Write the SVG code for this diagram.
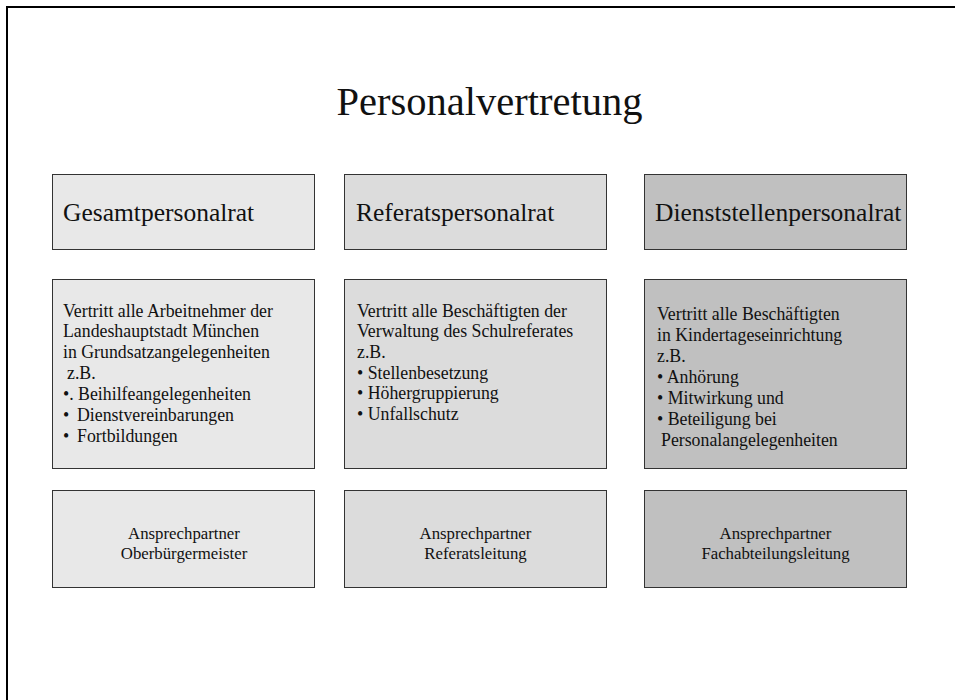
<svg xmlns="http://www.w3.org/2000/svg" width="955" height="700" viewBox="0 0 955 700">
  <style>
    text { font-family: "Liberation Serif", "Times New Roman", serif; fill: #111; }
    .frame { stroke: #000; stroke-width: 2; fill: none; }
    .box { stroke: #333; stroke-width: 1; }
    .c1 { fill: #e8e8e8; }
    .c2 { fill: #dcdcdc; }
    .c3 { fill: #c0c0c0; }
    .title { font-size: 40.5px; text-anchor: middle; }
    .head { font-size: 25.5px; }
    .body { font-size: 17.8px; }
    .foot { font-size: 16.8px; text-anchor: middle; }
  </style>

  <!-- page frame (top and left edges) -->
  <path class="frame" d="M7 700 V7 H955"/>

  <text class="title" x="489.5" y="115">Personalvertretung</text>

  <!-- column 1 -->
  <g id="gesamt-head">
    <rect class="box c1" x="52.5" y="174.5" width="262" height="75"/>
    <text class="head" x="63" y="221">Gesamtpersonalrat</text>
  </g>
  <g id="gesamt-body">
    <rect class="box c1" x="52.5" y="279.5" width="262" height="189"/>
    <text class="body" x="63" y="316.5" xml:space="preserve"><tspan x="63">Vertritt alle Arbeitnehmer der</tspan><tspan x="63" dy="20.9">Landeshauptstadt München</tspan><tspan x="63" dy="20.9">in Grundsatzangelegenheiten</tspan><tspan x="67" dy="20.9">z.B.</tspan><tspan x="63" dy="20.9">•. Beihilfeangelegenheiten</tspan><tspan x="63" dy="20.9">•</tspan><tspan x="77" dy="0">Dienstvereinbarungen</tspan><tspan x="63" dy="20.9">•</tspan><tspan x="77" dy="0">Fortbildungen</tspan></text>
  </g>
  <g id="gesamt-foot">
    <rect class="box c1" x="52.5" y="490.5" width="262" height="97"/>
    <text class="foot" x="184" y="539">Ansprechpartner</text>
    <text class="foot" x="184" y="559">Oberbürgermeister</text>
  </g>

  <!-- column 2 -->
  <g id="referat-head">
    <rect class="box c2" x="344.5" y="174.5" width="262" height="75"/>
    <text class="head" x="356" y="221">Referatspersonalrat</text>
  </g>
  <g id="referat-body">
    <rect class="box c2" x="344.5" y="279.5" width="262" height="189"/>
    <text class="body" x="357" y="316.5"><tspan x="357">Vertritt alle Beschäftigten der</tspan><tspan x="357" dy="20.7">Verwaltung des Schulreferates</tspan><tspan x="357" dy="20.7">z.B.</tspan><tspan x="357" dy="20.7">• Stellenbesetzung</tspan><tspan x="357" dy="20.7">• Höhergruppierung</tspan><tspan x="357" dy="20.7">• Unfallschutz</tspan></text>
  </g>
  <g id="referat-foot">
    <rect class="box c2" x="344.5" y="490.5" width="262" height="97"/>
    <text class="foot" x="475.5" y="539">Ansprechpartner</text>
    <text class="foot" x="475.5" y="559">Referatsleitung</text>
  </g>

  <!-- column 3 -->
  <g id="dienststelle-head">
    <rect class="box c3" x="644.5" y="174.5" width="262" height="75"/>
    <text class="head" x="655" y="221">Dienststellenpersonalrat</text>
  </g>
  <g id="dienststelle-body">
    <rect class="box c3" x="644.5" y="279.5" width="262" height="189"/>
    <text class="body" x="657" y="320"><tspan x="657">Vertritt alle Beschäftigten</tspan><tspan x="657" dy="20.95">in Kindertageseinrichtung</tspan><tspan x="657" dy="20.95">z.B.</tspan><tspan x="657" dy="20.95">• Anhörung</tspan><tspan x="657" dy="20.95">• Mitwirkung und</tspan><tspan x="657" dy="20.95">• Beteiligung bei</tspan><tspan x="661" dy="20.95">Personalangelegenheiten</tspan></text>
  </g>
  <g id="dienststelle-foot">
    <rect class="box c3" x="644.5" y="490.5" width="262" height="97"/>
    <text class="foot" x="775.5" y="539">Ansprechpartner</text>
    <text class="foot" x="775.5" y="559">Fachabteilungsleitung</text>
  </g>

  <g id="connectors"></g>
</svg>
